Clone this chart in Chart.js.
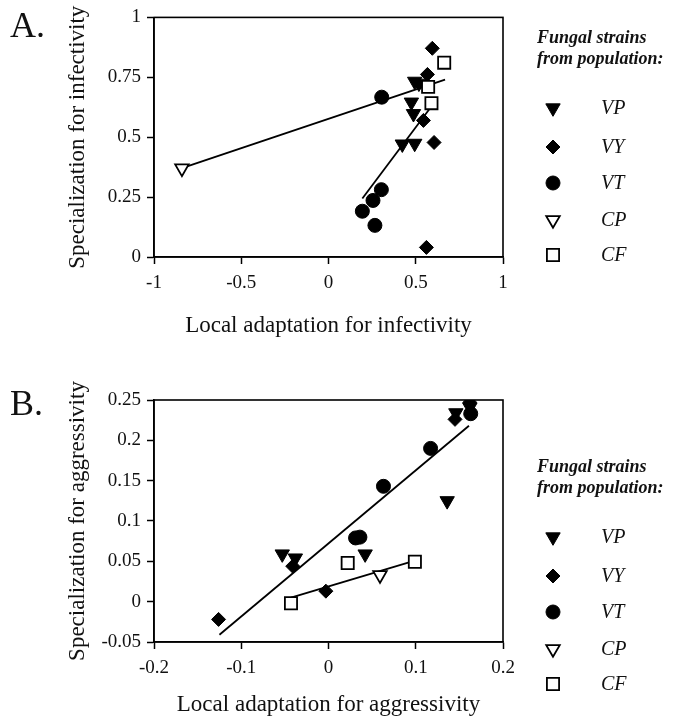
<!DOCTYPE html>
<html>
<head>
<meta charset="utf-8">
<script src="https://cdn.jsdelivr.net/npm/chart.js@4.4.1/dist/chart.umd.min.js"></script>
<style>
  html, body { margin: 0; padding: 0; background: #fff; }
  #wrap { position: relative; width: 678px; height: 719px; overflow: hidden; }
  canvas { position: absolute; left: 0; }
  #cA { top: 0; }
  #cB { top: 340px; }
</style>
</head>
<body>
<div id="wrap">
  <canvas id="cA" width="678" height="340"></canvas>
  <canvas id="cB" width="678" height="379"></canvas>
</div>
<script>
// ---------- Panel A: infectivity ----------
const xTicksA = [-1, -0.5, 0, 0.5, 1];
const yTicksA = [0, 0.25, 0.5, 0.75, 1];
const vpAx = [0.494, 0.518, 0.475, 0.487, 0.423, 0.494];
const vpAy = [0.733, 0.725, 0.646, 0.598, 0.471, 0.474];
const vyAx = [0.595, 0.567, 0.544, 0.605, 0.561];
const vyAy = [0.871, 0.762, 0.570, 0.478, 0.040];
const vtAx = [0.305, 0.194, 0.255, 0.303, 0.266];
const vtAy = [0.667, 0.191, 0.236, 0.281, 0.132];
const cpAx = [-0.84];
const cpAy = [0.37];
const cfAx = [0.663, 0.571, 0.590];
const cfAy = [0.811, 0.710, 0.642];
const fit1Ax = [-0.84, 0.668];
const fit1Ay = [0.371, 0.740];
const fit2Ax = [0.194, 0.586];
const fit2Ay = [0.244, 0.625];

// ---------- Panel B: aggressivity ----------
const xTicksB = [-0.2, -0.1, 0, 0.1, 0.2];
const yTicksB = [-0.05, 0, 0.05, 0.1, 0.15, 0.2, 0.25];
const vpBx = [-0.053, -0.038, 0.042, 0.136, 0.146, 0.162];
const vpBy = [0.059, 0.054, 0.059, 0.125, 0.234, 0.241];
const vyBx = [-0.126, -0.003, -0.041, 0.145, 0.162];
const vyBy = [-0.022, 0.013, 0.044, 0.226, 0.247];
const vtBx = [0.031, 0.036, 0.063, 0.117, 0.163];
const vtBy = [0.079, 0.080, 0.143, 0.190, 0.233];
const cpBx = [0.059];
const cpBy = [0.033];
const cfBx = [-0.043, 0.022, 0.099];
const cfBy = [-0.002, 0.048, 0.0495];
const fit1Bx = [-0.125, 0.161];
const fit1By = [-0.041, 0.218];
const fit2Bx = [-0.043, 0.099];
const fit2By = [0.005, 0.051];

// ---------- Legend ----------
const legendTitle = ['Fungal strains', 'from population:'];
const legendNames = ['VP', 'VY', 'VT', 'CP', 'CF'];

const FONT = '"Liberation Serif", "Times New Roman", serif';

const styles = {
  VP: { pointStyle: 'triangle', rotation: 180, radius: 8.3, fill: '#000' },
  VY: { pointStyle: 'rectRot', rotation: 0, radius: 7, fill: '#000' },
  VT: { pointStyle: 'circle', rotation: 0, radius: 7, fill: '#000' },
  CP: { pointStyle: 'triangle', rotation: 180, radius: 7.8, fill: '#fff' },
  CF: { pointStyle: 'rect', rotation: 0, radius: 8.6, fill: '#fff' }
};

function pts(xs, ys) { return xs.map((x, i) => ({ x: x, y: ys[i] })); }

function markerSet(name, xs, ys) {
  const s = styles[name];
  return {
    label: name,
    data: pts(xs, ys),
    pointStyle: s.pointStyle,
    rotation: s.rotation,
    pointRadius: s.radius,
    pointHoverRadius: s.radius,
    backgroundColor: s.fill,
    borderColor: '#000',
    borderWidth: s.fill === '#fff' ? 1.8 : 1,
    showLine: false,
    order: 1
  };
}
function lineSet(xs, ys) {
  return {
    label: 'fit',
    data: pts(xs, ys),
    showLine: true,
    pointRadius: 0,
    borderColor: '#000',
    borderWidth: 1.8,
    fill: false,
    order: 5
  };
}

function drawMarker(ctx, name, x, y) {
  const s = styles[name];
  ctx.save();
  ctx.fillStyle = s.fill;
  ctx.strokeStyle = '#000';
  ctx.lineWidth = s.fill === '#fff' ? 1.8 : 1;
  if (Chart.helpers && Chart.helpers.drawPoint) {
    Chart.helpers.drawPoint(ctx, { pointStyle: s.pointStyle, rotation: s.rotation, radius: s.radius, borderWidth: ctx.lineWidth }, x, y);
  }
  ctx.restore();
}

const decorPlugin = {
  id: 'decor',
  beforeDatasetsDraw(chart, args, opts) {
    const a = chart.chartArea;
    const ctx = chart.ctx;
    ctx.save();
    ctx.strokeStyle = '#000';
    ctx.lineWidth = 1.6;
    ctx.strokeRect(a.left, a.top, a.right - a.left, a.bottom - a.top);
    ctx.restore();
  },
  afterDraw(chart, args, opts) {
    const ctx = chart.ctx;
    ctx.save();
    ctx.fillStyle = '#111';
    // panel letter
    ctx.font = '36px ' + FONT;
    ctx.textAlign = 'left';
    ctx.textBaseline = 'alphabetic';
    ctx.fillText(opts.letter, 10, opts.letterY);
    // legend
    const ly = opts.legendY;
    ctx.font = 'italic bold 18px ' + FONT;
    ctx.textBaseline = 'middle';
    ctx.fillText(legendTitle[0], 537, ly);
    ctx.fillText(legendTitle[1], 537, ly + 21);
    ctx.font = 'italic 20px ' + FONT;
    const itemY = [ly + 70, ly + 109, ly + 145, ly + 182, ly + 217];
    legendNames.forEach((n, i) => {
      drawMarker(ctx, n, 553, itemY[i]);
      ctx.fillStyle = '#111';
      ctx.fillText(n, 601, itemY[i] + 1);
    });
    ctx.restore();
  }
};

function makeScale(min, max, ticksArr, title, isX, fitSize) {
  return {
    type: 'linear',
    min: min,
    max: max,
    afterBuildTicks(scale) { scale.ticks = ticksArr.map(v => ({ value: v })); },
    afterFit(scale) {
      if (isX) scale.height = fitSize; else scale.width = fitSize;
    },
    grid: {
      display: true,
      drawOnChartArea: false,
      drawTicks: true,
      tickLength: 7,
      tickColor: '#000',
      tickWidth: 1.5
    },
    border: { display: true, color: '#000', width: 1.6 },
    ticks: {
      color: '#111',
      padding: isX ? 8 : 6,
      font: { family: FONT, size: 19 },
      callback: v => String(v),
      maxRotation: 0,
      autoSkip: false
    },
    title: {
      display: true,
      text: title,
      color: '#111',
      font: { family: FONT, size: 23 },
      padding: 0
    }
  };
}

function makeChart(id, cfg) {
  return new Chart(document.getElementById(id), {
    type: 'scatter',
    data: {
      datasets: [
        lineSet(cfg.f1x, cfg.f1y),
        lineSet(cfg.f2x, cfg.f2y),
        markerSet('CF', cfg.cfx, cfg.cfy),
        markerSet('CP', cfg.cpx, cfg.cpy),
        markerSet('VT', cfg.vtx, cfg.vty),
        markerSet('VY', cfg.vyx, cfg.vyy),
        markerSet('VP', cfg.vpx, cfg.vpy)
      ]
    },
    options: {
      responsive: false,
      animation: false,
      devicePixelRatio: 1,
      layout: { padding: { top: cfg.padTop, right: 175, left: 64, bottom: 0 } },
      plugins: {
        legend: { display: false },
        tooltip: { enabled: false },
        decor: { letter: cfg.letter, letterY: cfg.letterY, legendY: cfg.legendY }
      },
      scales: {
        x: makeScale(cfg.xmin, cfg.xmax, cfg.xticks, cfg.xtitle, true, cfg.xh),
        y: makeScale(cfg.ymin, cfg.ymax, cfg.yticks, cfg.ytitle, false, 90)
      }
    },
    plugins: [decorPlugin]
  });
}

makeChart('cA', {
  letter: 'A.', letterY: 37, legendY: 38, padTop: 16, xh: 340 - 257,
  xmin: -1, xmax: 1, ymin: 0, ymax: 1, xticks: xTicksA, yticks: yTicksA,
  xtitle: 'Local adaptation for infectivity', ytitle: 'Specialization for infectivity',
  vpx: vpAx, vpy: vpAy, vyx: vyAx, vyy: vyAy, vtx: vtAx, vty: vtAy,
  cpx: cpAx, cpy: cpAy, cfx: cfAx, cfy: cfAy,
  f1x: fit1Ax, f1y: fit1Ay, f2x: fit2Ax, f2y: fit2Ay
});

makeChart('cB', {
  letter: 'B.', letterY: 75, legendY: 127, padTop: 60, xh: 379 - 302,
  xmin: -0.2, xmax: 0.2, ymin: -0.05, ymax: 0.25, xticks: xTicksB, yticks: yTicksB,
  xtitle: 'Local adaptation for aggressivity', ytitle: 'Specialization for aggressivity',
  vpx: vpBx, vpy: vpBy, vyx: vyBx, vyy: vyBy, vtx: vtBx, vty: vtBy,
  cpx: cpBx, cpy: cpBy, cfx: cfBx, cfy: cfBy,
  f1x: fit1Bx, f1y: fit1By, f2x: fit2Bx, f2y: fit2By
});
</script>
</body>
</html>
